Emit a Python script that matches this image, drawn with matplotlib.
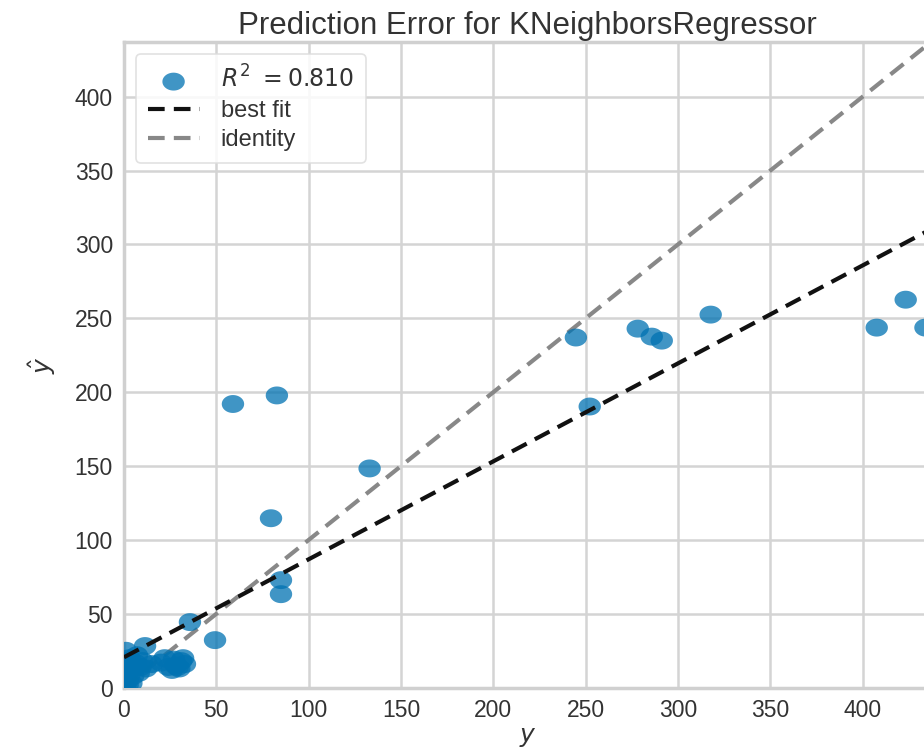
import numpy as np
import matplotlib
matplotlib.use("Agg")
import matplotlib.pyplot as plt
from matplotlib.path import Path

# ---- data ----
y_true = [59, 82.8, 133, 79.6, 85, 85, 35.7, 49.3, 11.4,
          244.7, 252.2, 278.2, 285.8, 291.2, 317.7, 407.6, 423.3, 434,
          0.5, 1, 2, 3, 4, 5, 6, 7, 8, 9, 10, 2, 1, 4, 12, 15, 6, 3, 0.5,
          20, 24, 26, 28, 30, 31, 32, 33, 27, 22, 29]
y_pred = [192, 197.8, 148.4, 114.7, 72.8, 63.3, 44.4, 32.2, 28.2,
          237, 190.3, 243, 237.6, 234.9, 252.5, 243.7, 262.6, 243.7,
          18, 12, 5, 20, 15, 8, 17, 22, 10, 14, 18, 2, 25, 3, 13, 16, 14, 9, 1,
          17, 14, 12, 15, 13, 18, 20, 16, 19, 20, 14]
fit_intercept = 20.6
fit_slope = 0.663
r2_label = r"$R^2\ = 0.810$"
title = "Prediction Error for KNeighborsRegressor"
lim = [0, 437]
ticks = [0, 50, 100, 150, 200, 250, 300, 350, 400]

plt.rcParams['font.family'] = ['Liberation Sans', 'DejaVu Sans']
plt.rcParams['mathtext.fontset'] = 'dejavusans'

fig = plt.figure(figsize=(9.24, 7.54), dpi=100)
ax = fig.add_axes([124 / 924, (754 - 687.7) / 754, (931 - 124) / 924, (687.7 - 42) / 754])
ax.set_facecolor('white')

# ellipse marker (reference is horizontally stretched)
t = np.linspace(0, 2 * np.pi, 60)
ell = Path(np.column_stack([np.cos(t), 0.8 * np.sin(t)]), closed=True)

ax.scatter(y_true, y_pred, s=260, marker=ell, color='#0072B2', alpha=0.75,
           edgecolors='none', label=r2_label, zorder=3)

xs = np.array(lim, dtype=float)
ax.plot(xs, fit_intercept + fit_slope * xs, ls='--', color='#111111', lw=3,
        dashes=(4, 2.2), label='best fit', zorder=4)
ax.plot(xs, xs, ls='--', color='#888888', lw=3, dashes=(4, 2.2),
        label='identity', zorder=2)

ax.set_xlim(lim)
ax.set_ylim(lim)
ax.set_xticks(ticks)
ax.set_yticks(ticks)
ax.grid(True, color='#d4d4d4', lw=1.8)
ax.set_axisbelow(True)
for sp in ax.spines.values():
    sp.set_color('#d0d0d0')
    sp.set_linewidth(2.5)
ax.tick_params(axis='both', length=0, labelsize=16.5, labelcolor='#333333', pad=8)

ax.set_title(title, fontsize=22.5, color='#333333', pad=6)
ax.set_xlabel(r'$y$', fontsize=18, color='#333333', labelpad=2)
ax.set_ylabel(r'$\hat{y}$', fontsize=18, color='#333333', labelpad=12)

leg = ax.legend(loc='upper left', frameon=True, fontsize=17, fancybox=True,
                borderpad=0.5, handlelength=2.2, handletextpad=0.9,
                labelspacing=0.3, bbox_to_anchor=(0.0, 1.0),
                borderaxespad=0.5)
leg.get_frame().set_edgecolor('#dddddd')
leg.get_frame().set_linewidth(1.2)
leg.get_frame().set_facecolor('white')
leg.get_frame().set_alpha(0.85)
for txt in leg.get_texts():
    txt.set_color('#333333')

fig.savefig('out.png', dpi=100, facecolor='white')
